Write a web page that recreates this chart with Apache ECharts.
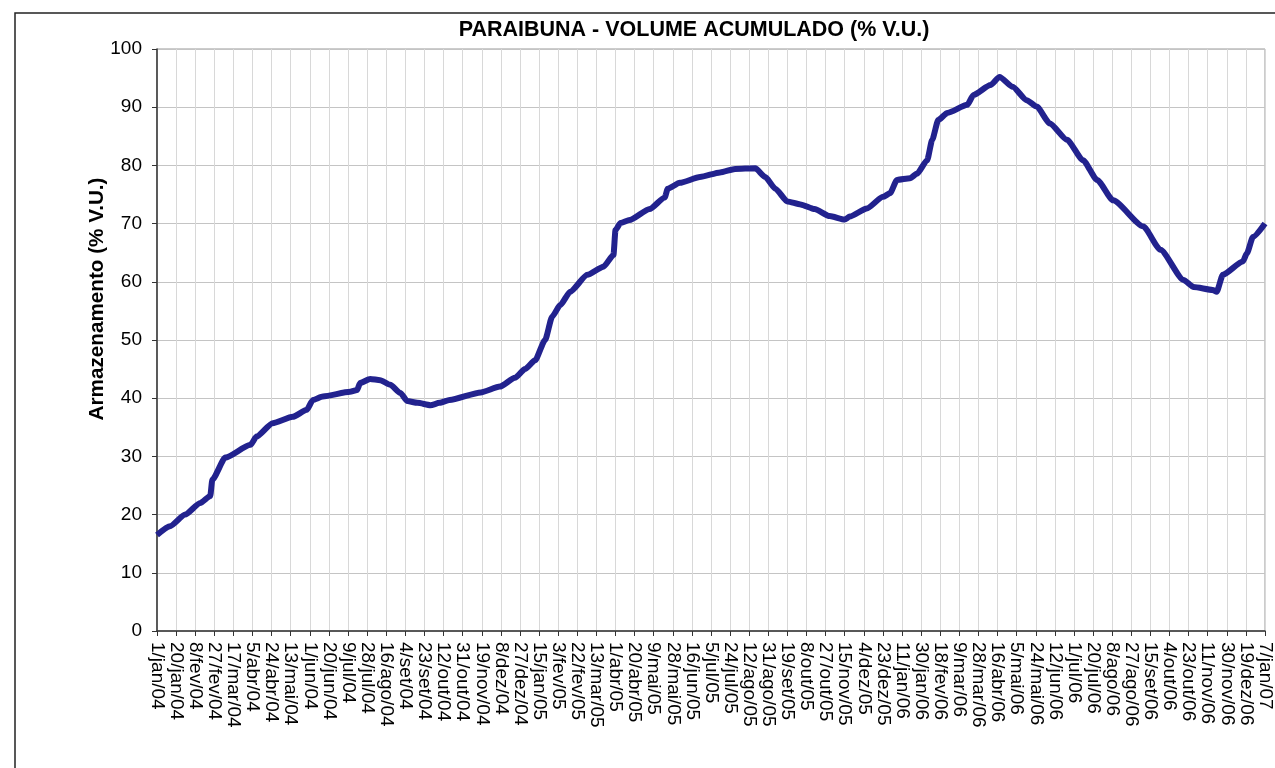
<!DOCTYPE html>
<html>
<head>
<meta charset="utf-8">
<script src="https://cdn.jsdelivr.net/npm/echarts@6/dist/echarts.min.js"></script>
<style>
  html, body { margin: 0; padding: 0; background: #fff; }
  #chart { width: 1275px; height: 768px; }
</style>
</head>
<body>
<div id="chart"></div>
<script>
// rótulos do eixo X (a cada 19 dias)
const tickLabels = [
  '1/jan/04', '20/jan/04', '8/fev/04', '27/fev/04', '17/mar/04', '5/abr/04', '24/abr/04', '13/mai/04',
  '1/jun/04', '20/jun/04', '9/jul/04', '28/jul/04', '16/ago/04', '4/set/04', '23/set/04', '12/out/04',
  '31/out/04', '19/nov/04', '8/dez/04', '27/dez/04', '15/jan/05', '3/fev/05', '22/fev/05', '13/mar/05',
  '1/abr/05', '20/abr/05', '9/mai/05', '28/mai/05', '16/jun/05', '5/jul/05', '24/jul/05', '12/ago/05',
  '31/ago/05', '19/set/05', '8/out/05', '27/out/05', '15/nov/05', '4/dez/05', '23/dez/05', '11/jan/06',
  '30/jan/06', '18/fev/06', '9/mar/06', '28/mar/06', '16/abr/06', '5/mai/06', '24/mai/06', '12/jun/06',
  '1/jul/06', '20/jul/06', '8/ago/06', '27/ago/06', '15/set/06', '4/out/06', '23/out/06', '11/nov/06',
  '30/nov/06', '19/dez/06', '7/jan/07'
];
const tickStep = 19;

// dias desde 1/jan/04 e volume acumulado (% V.U.)
const dias = [
  0, 13, 28, 43, 53, 55, 68, 93, 99, 115, 135, 149, 155, 165, 192, 199, 202, 212, 222, 232,
  242, 249, 259, 272, 281, 291, 322, 341, 356, 366, 376, 386, 393, 401, 411, 428, 444, 454, 456, 461,
  470, 490, 505, 508, 520, 540, 560, 575, 595, 605, 615, 627, 640, 654, 669, 684, 689, 706, 722, 729,
  736, 749, 756, 766, 771, 777, 786, 806, 812, 829, 838, 851, 865, 875, 888, 905, 921, 935, 951, 981,
  998, 1021, 1031, 1050, 1054, 1060, 1080, 1084, 1090, 1102
];
const volume = [
  16.5, 18, 20, 22, 23.2, 26, 29.8, 32, 33.4, 35.7, 36.8, 38, 39.7, 40.3, 41.1, 41.4, 42.6, 43.3, 43.1, 42.3,
  40.9, 39.5, 39.2, 38.8, 39.2, 39.7, 41, 42, 43.5, 45, 46.5, 50, 54, 56, 58.3, 61.2, 62.6, 64.6, 68.9, 70.1,
  70.6, 72.5, 74.5, 76, 77, 78, 78.8, 79.4, 79.5, 78, 76, 73.8, 73.3, 72.5, 71.3, 70.7, 71.2, 72.6, 74.6, 75.2,
  77.5, 77.8, 78.6, 80.9, 84.4, 87.8, 89, 90.4, 92.1, 93.8, 95.2, 93.5, 91.2, 90.1, 87.2, 84.4, 80.9, 77.5, 74, 69.5,
  65.5, 60.3, 59.1, 58.6, 58.3, 61.2, 63.5, 64.9, 67.7, 70
];

const chart = echarts.init(document.getElementById('chart'));
const fonte = 'Liberation Sans, Arial, sans-serif';

const option = {
  animation: false,
  backgroundColor: '#fff',
  grid: {
    left: 157, top: 49, right: 10, bottom: 137,
    show: true, borderColor: '#999', borderWidth: 1
  },
  graphic: [
    {
      type: 'rect', silent: true,
      shape: { x: 15, y: 13, width: 1400, height: 900 },
      style: { fill: 'none', stroke: '#222', lineWidth: 1.5 }
    },
    {
      type: 'text', x: 694, y: 30, silent: true,
      style: {
        text: 'PARAIBUNA - VOLUME ACUMULADO (% V.U.)',
        font: 'bold 21.5px ' + fonte, fill: '#000',
        textAlign: 'center', textVerticalAlign: 'middle'
      }
    },
    {
      type: 'text', x: 97, y: 299, rotation: Math.PI / 2, silent: true,
      style: {
        text: 'Armazenamento (% V.U.)',
        font: 'bold 20.7px ' + fonte, fill: '#000',
        textAlign: 'center', textVerticalAlign: 'middle'
      }
    }
  ],
  xAxis: {
    type: 'value',
    min: 0,
    max: tickStep * (tickLabels.length - 1),
    interval: tickStep,
    axisLine: { show: true, lineStyle: { color: '#333', width: 1.5 } },
    axisTick: { show: true, length: 5, lineStyle: { color: '#333' } },
    splitLine: { show: true, lineStyle: { color: '#d8d8d8', width: 1 } },
    axisLabel: {
      rotate: -90,
      margin: 11,
      color: '#000',
      fontSize: 19,
      fontFamily: fonte,
      hideOverlap: false,
      showMinLabel: true,
      showMaxLabel: true,
      formatter: (v) => tickLabels[Math.round(v / tickStep)] || ''
    }
  },
  yAxis: {
    type: 'value',
    min: 0, max: 100, interval: 10,
    axisLine: { show: true, lineStyle: { color: '#333', width: 1.5 } },
    axisTick: { show: true, length: 5, lineStyle: { color: '#333' } },
    splitLine: { show: true, lineStyle: { color: '#c4c4c4', width: 1 } },
    axisLabel: { color: '#000', fontSize: 19, fontFamily: fonte, margin: 15 }
  },
  series: [{
    type: 'line',
    data: dias.map((d, i) => [d, volume[i]]),
    showSymbol: false,
    smooth: 0.2,
    smoothMonotone: 'x',
    lineStyle: { color: '#22228e', width: 6 }
  }]
};
chart.setOption(option);
</script>
</body>
</html>
